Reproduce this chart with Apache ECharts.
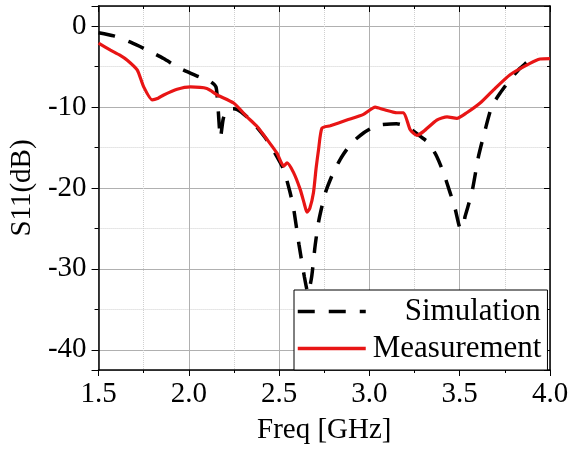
<!DOCTYPE html>
<html>
<head>
<meta charset="utf-8">
<script src="https://cdn.jsdelivr.net/npm/echarts@6/dist/echarts.min.js"></script>
<style>
  html, body { margin: 0; padding: 0; background: #fff; }
  #chart { width: 574px; height: 450px; }
</style>
</head>
<body>
<div id="chart"></div>
<script>
// simulation (dashed black)
const simFreq = [1.5, 1.585, 1.68, 1.77, 1.86, 1.95, 2.04, 2.12, 2.15, 2.16, 2.175, 2.19, 2.21, 2.25, 2.29, 2.35, 2.43, 2.49, 2.525, 2.56, 2.58, 2.61, 2.64, 2.66, 2.68, 2.70, 2.72, 2.756, 2.80, 2.848, 2.903, 2.967, 3.02, 3.06, 3.15, 3.21, 3.28, 3.327, 3.373, 3.41, 3.447, 3.475, 3.50, 3.515, 3.53, 3.567, 3.604, 3.641, 3.678, 3.723, 3.779, 3.834, 3.87, 3.91, 3.93];
const simS11 = [-0.8, -1.2, -2.0, -2.95, -4.0, -5.2, -6.1, -6.85, -7.5, -9.5, -13.8, -11.5, -10.3, -10.2, -10.6, -11.8, -14.0, -16.2, -17.7, -20.5, -22.5, -27, -31, -33, -31, -27, -24, -20.6, -18.1, -16.1, -14.4, -13.2, -12.5, -12.2, -12.05, -12.4, -13.6, -14.4, -16.1, -18.1, -20.6, -22.6, -24.9, -25, -23.5, -20.6, -16.1, -12.8, -9.9, -8.3, -6.6, -5.2, -4.5, -3.7, -3.4];

// measurement (solid red)
const measFreq = [1.5, 1.566, 1.62, 1.659, 1.714, 1.75, 1.797, 1.83, 1.861, 1.935, 2.009, 2.10, 2.157, 2.248, 2.322, 2.378, 2.433, 2.488, 2.525, 2.544, 2.58, 2.617, 2.64, 2.654, 2.67, 2.69, 2.705, 2.718, 2.737, 2.783, 2.875, 2.967, 3.032, 3.078, 3.152, 3.189, 3.226, 3.263, 3.30, 3.373, 3.43, 3.484, 3.539, 3.613, 3.686, 3.779, 3.889, 3.945, 4.0];
const measS11 = [-2.1, -2.95, -3.6, -4.2, -5.4, -7.5, -9.1, -8.9, -8.5, -7.8, -7.5, -7.7, -8.5, -9.5, -11.2, -12.4, -14.0, -15.7, -17.3, -16.9, -18.1, -20.2, -22.0, -23.0, -22.5, -20.6, -17.5, -15.3, -12.6, -12.3, -11.6, -10.9, -10.0, -10.3, -10.7, -10.7, -12.8, -13.5, -13.0, -11.6, -11.2, -11.4, -10.7, -9.5, -7.9, -6.0, -4.6, -4.06, -4.0];

const xTicks = { min: 1.5, max: 4.0, step: 0.5 };
const yRange = { min: -42.5, max: 2.5 };

const serif = 'Liberation Serif';
const chart = echarts.init(document.getElementById('chart'));

const pairs = (xs, ys) => xs.map((x, i) => [x, ys[i]]);

const frameAxis = {
  axisLine: { show: true, onZero: false, lineStyle: { color: '#000', width: 1.5 } },
  axisLabel: { show: false },
  splitLine: { show: false },
  axisTick: { show: true, inside: true, length: 6, lineStyle: { color: '#000' } },
  minorTick: { show: true, splitNumber: 2, length: 3, lineStyle: { color: '#000' } }
};

const option = {
  animation: false,
  backgroundColor: '#fff',
  grid: { left: 98, right: 24, top: 6, bottom: 79 },
  legend: {
    orient: 'vertical',
    left: 294,
    top: 290,
    padding: [6, 6, 6, 2],
    itemGap: 6,
    itemWidth: 68,
    itemHeight: 14,
    backgroundColor: '#fff',
    borderColor: '#000',
    borderWidth: 1,
    borderRadius: 0,
    itemStyle: { opacity: 0 },
    lineStyle: { width: 3.5 },
    data: [
      { name: 'Simulation', textStyle: { padding: [0, 0, 0, 34] } },
      { name: 'Measurement', textStyle: { padding: [0, 0, 0, 2] } }
    ],
    textStyle: { fontFamily: serif, fontSize: 31, color: '#000' }
  },
  xAxis: [
    {
      type: 'value',
      min: xTicks.min,
      max: xTicks.max,
      interval: xTicks.step,
      name: 'Freq [GHz]',
      nameLocation: 'middle',
      nameGap: 46,
      nameTextStyle: { fontFamily: serif, fontSize: 29, color: '#000' },
      axisLine: { show: true, onZero: false, lineStyle: { color: '#000', width: 1.5 } },
      axisTick: { show: true, inside: false, length: 6, lineStyle: { color: '#000' } },
      minorTick: { show: true, splitNumber: 2, length: 3, lineStyle: { color: '#000' } },
      axisLabel: {
        fontFamily: serif, fontSize: 29, color: '#000', margin: 10,
        formatter: v => v.toFixed(1)
      },
      splitLine: { show: true, lineStyle: { color: '#b0b0b0', width: 1 } },
      minorSplitLine: { show: true, lineStyle: { color: '#d0d0d0', width: 1, type: 'dotted' } }
    },
    Object.assign({
      type: 'value',
      position: 'top',
      min: xTicks.min,
      max: xTicks.max,
      interval: xTicks.step
    }, frameAxis)
  ],
  yAxis: [
    {
      type: 'value',
      min: yRange.min,
      max: yRange.max,
      splitNumber: 5,
      name: 'S11(dB)',
      nameLocation: 'middle',
      nameGap: 60,
      nameTextStyle: { fontFamily: serif, fontSize: 29, color: '#000' },
      axisLine: { show: true, onZero: false, lineStyle: { color: '#000', width: 1.5 } },
      axisTick: { show: true, inside: false, length: 7, lineStyle: { color: '#000' } },
      minorTick: { show: true, splitNumber: 2, length: 4, lineStyle: { color: '#000' } },
      axisLabel: {
        fontFamily: serif, fontSize: 29, color: '#000', margin: 12,
        formatter: v => (v % 10 === 0 ? String(v) : '')
      },
      splitLine: { show: true, lineStyle: { color: '#b0b0b0', width: 1 } },
      minorSplitLine: { show: true, lineStyle: { color: '#d0d0d0', width: 1, type: 'dotted' } }
    },
    Object.assign({
      type: 'value',
      position: 'right',
      min: yRange.min,
      max: yRange.max,
      splitNumber: 5
    }, frameAxis)
  ],
  series: [
    {
      name: 'Simulation',
      type: 'line',
      symbol: 'none',
      smooth: 0.2,
      data: pairs(simFreq, simS11),
      lineStyle: { color: '#000', width: 3.5, type: [17, 14] },
      itemStyle: { color: '#000' },
      z: 2
    },
    {
      name: 'Measurement',
      type: 'line',
      symbol: 'none',
      smooth: 0.2,
      data: pairs(measFreq, measS11),
      lineStyle: { color: '#e81515', width: 3.2 },
      itemStyle: { color: '#e81515' },
      z: 3
    }
  ]
};

chart.setOption(option);
</script>
</body>
</html>
